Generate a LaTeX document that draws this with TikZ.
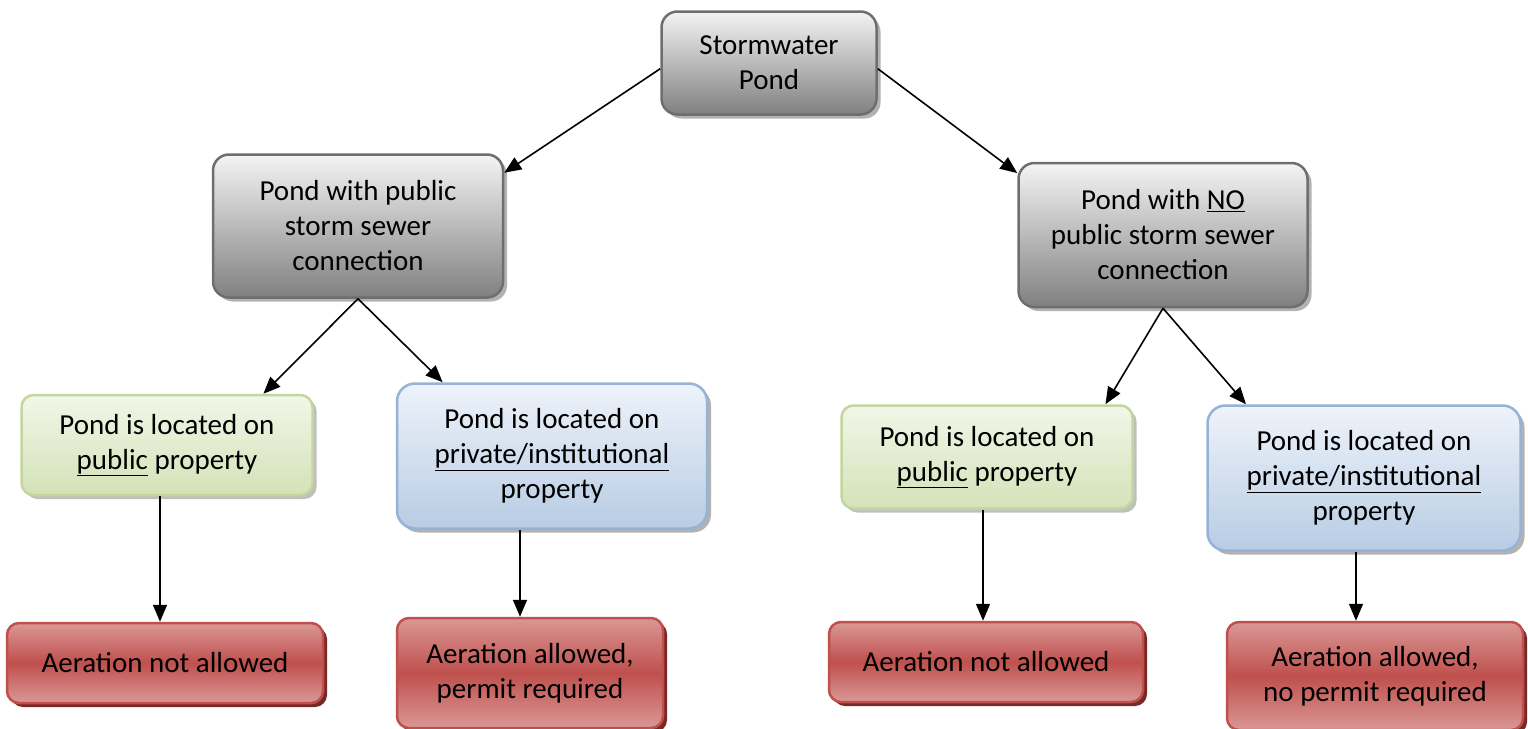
\documentclass[tikz,border=0pt]{standalone}
\usepackage{fontspec}
\setmainfont{Carlito}
\usetikzlibrary{arrows.meta,shadows}

\definecolor{greyline}{HTML}{6E6E6E}
\definecolor{greytop}{HTML}{F4F4F4}
\definecolor{greybot}{HTML}{808080}
\definecolor{greenline}{HTML}{C3D69B}
\definecolor{greentop}{HTML}{F2F6E8}
\definecolor{greenbot}{HTML}{D4E2B8}
\definecolor{blueline}{HTML}{95B3D7}
\definecolor{bluetop}{HTML}{EEF3FA}
\definecolor{bluebot}{HTML}{B8CCE4}
\definecolor{redline}{HTML}{C0504D}
\definecolor{redlight}{HTML}{DA9896}
\definecolor{redmid}{HTML}{BF504D}
\definecolor{redshadow}{HTML}{7A2826}

\begin{document}
\begin{tikzpicture}[->,>={Triangle[length=17pt,width=14pt]},line width=1.6pt,x=1pt,y=-1pt,
  font=\fontsize{29}{35}\selectfont]
\tikzstyle{every node}=[align=center,inner sep=0pt,line width=2.5pt,text=black]
\tikzstyle{greybox}=[draw=greyline,top color=greytop,bottom color=greybot,rounded corners=16pt,
  drop shadow={shadow xshift=4pt,shadow yshift=-4pt,fill=black!30,opacity=1}]
\tikzstyle{greenbox}=[draw=greenline,top color=greentop,bottom color=greenbot,rounded corners=12pt,
  drop shadow={shadow xshift=4pt,shadow yshift=-4pt,fill=black!25,opacity=1}]
\tikzstyle{bluebox}=[draw=blueline,top color=bluetop,bottom color=bluebot,rounded corners=18pt,
  drop shadow={shadow xshift=4pt,shadow yshift=-4pt,fill=black!30,opacity=1}]
\tikzstyle{redbox}=[draw=redline,top color=redlight,bottom color=redlight,middle color=redmid,rounded corners=12pt,
  drop shadow={shadow xshift=4pt,shadow yshift=-4pt,fill=redshadow,opacity=1}]
\useasboundingbox (0,0) rectangle (1528,728);

\node[greybox,minimum width=215pt,minimum height=103pt] (top) at (769,63) {Stormwater\\Pond};
\node[greybox,minimum width=290pt,minimum height=143pt] (leftmid) at (358,226)
  {Pond with public\\storm sewer\\connection};
\node[greybox,minimum width=289pt,minimum height=144pt] (rightmid) at (1163,235)
  {Pond with \underline{NO}\\public storm sewer\\connection};

\node[greenbox,minimum width=291pt,minimum height=100pt] (greenL) at (167,445)
  {Pond is located on\\\underline{public} property};
\node[bluebox,minimum width=310pt,minimum height=145pt] (blueL) at (552,456)
  {Pond is located on\\\underline{private/institutional}\\property};
\node[greenbox,minimum width=291pt,minimum height=103pt] (greenR) at (987,457)
  {Pond is located on\\\underline{public} property};
\node[bluebox,minimum width=313pt,minimum height=145pt] (blueR) at (1364,478)
  {Pond is located on\\\underline{private/institutional}\\property};

\node[redbox,minimum width=316pt,minimum height=80pt] (red1) at (165,663) {Aeration not allowed};
\node[redbox,minimum width=266pt,minimum height=110pt] (red2) at (530,673)
  {Aeration allowed,\\permit required};
\node[redbox,minimum width=314pt,minimum height=80pt] (red3) at (986,662) {Aeration not allowed};
\node[redbox,minimum width=296pt,minimum height=108pt] (red4) at (1375,676)
  {Aeration allowed,\\no permit required};

\path (top.183) edge (leftmid.20)
      (top.-3) edge (rightmid.157)
      (leftmid.south) edge (greenL.28)
                      edge (blueL.146)
      (rightmid.south) edge (greenR.24)
                       edge (blueR.148)
      ([xshift=-5pt]red1.north |- greenL.south) edge ([xshift=-5pt]red1.north)
      ([xshift=-10pt]red2.north |- blueL.south) edge ([xshift=-10pt]red2.north)
      ([xshift=-3pt]red3.north |- greenR.south) edge ([xshift=-3pt]red3.north)
      ([xshift=-19pt]red4.north |- blueR.south) edge ([xshift=-19pt]red4.north);
\end{tikzpicture}
\end{document}
